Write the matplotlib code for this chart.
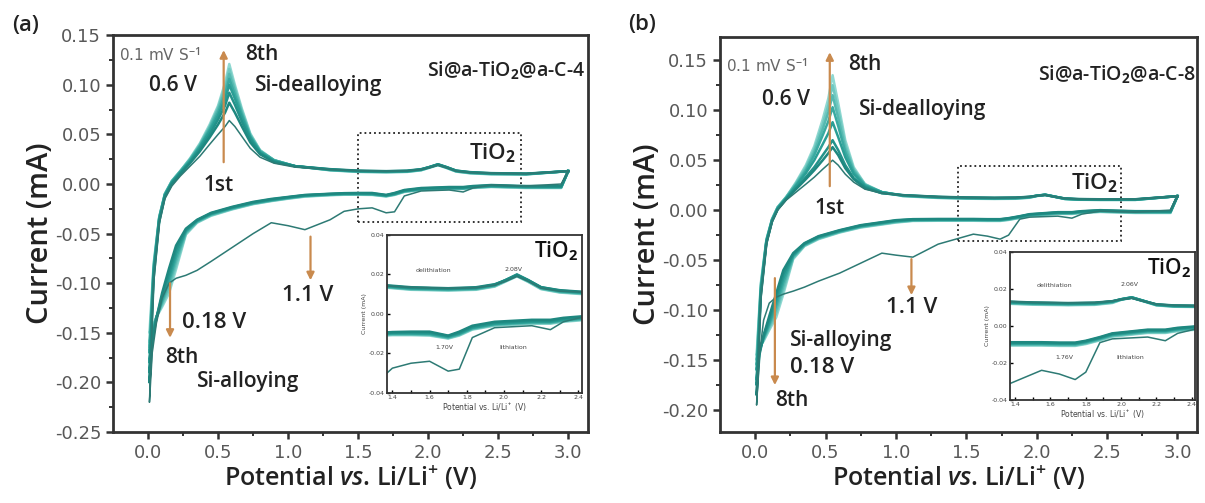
import matplotlib
matplotlib.use("Agg")
import matplotlib.pyplot as plt
from matplotlib.patches import Rectangle

plt.rcParams['axes.unicode_minus'] = False
plt.rcParams['mathtext.fontset'] = 'custom'
plt.rcParams['mathtext.rm'] = 'Open Sans:semibold'
plt.rcParams['mathtext.it'] = 'Open Sans:italic:semibold'
plt.rcParams['mathtext.bf'] = 'Open Sans:bold'

# ---------------- data: panel (a) Si@a-TiO2@a-C-4 ----------------
a_an_v = [0.01, 0.04, 0.08, 0.12, 0.17, 0.23, 0.3, 0.37, 0.44, 0.5, 0.55, 0.58, 0.62, 0.67, 0.73,
          0.8, 0.9, 1.05, 1.3, 1.5, 1.7, 1.85, 1.95, 2.01, 2.07, 2.13, 2.2, 2.3, 2.45, 2.7, 3.0]
a_an_i = [
    [-0.22, -0.1, -0.04, -0.015, -0.002, 0.008, 0.018, 0.028, 0.04, 0.05, 0.058, 0.064, 0.058, 0.048, 0.036,
     0.027, 0.021, 0.017, 0.0145, 0.0135, 0.013, 0.0133, 0.0145, 0.0165, 0.019, 0.0165, 0.013, 0.0115, 0.011, 0.0105, 0.013],
    [-0.2, -0.095, -0.038, -0.013, 0.0, 0.01, 0.021, 0.033, 0.047, 0.06, 0.072, 0.082, 0.072, 0.058, 0.042,
     0.03, 0.022, 0.018, 0.015, 0.0135, 0.013, 0.0135, 0.015, 0.017, 0.0195, 0.017, 0.0135, 0.012, 0.011, 0.0105, 0.013],
    [-0.19, -0.09, -0.036, -0.012, 0.001, 0.011, 0.022, 0.035, 0.05, 0.065, 0.079, 0.092, 0.08, 0.063, 0.045,
     0.031, 0.023, 0.018, 0.0148, 0.0132, 0.0128, 0.0132, 0.0148, 0.0172, 0.02, 0.0172, 0.0135, 0.0118, 0.0108, 0.0103, 0.013],
    [-0.18, -0.088, -0.035, -0.011, 0.002, 0.012, 0.023, 0.037, 0.053, 0.069, 0.085, 0.1, 0.086, 0.067, 0.047,
     0.032, 0.023, 0.018, 0.0145, 0.013, 0.0126, 0.013, 0.0146, 0.0172, 0.0198, 0.017, 0.0133, 0.0116, 0.0106, 0.0102, 0.013],
    [-0.17, -0.086, -0.034, -0.011, 0.002, 0.012, 0.024, 0.038, 0.055, 0.072, 0.09, 0.106, 0.09, 0.07, 0.048,
     0.033, 0.024, 0.018, 0.0143, 0.0128, 0.0124, 0.0128, 0.0144, 0.017, 0.0196, 0.0168, 0.0131, 0.0114, 0.0104, 0.01, 0.013],
    [-0.165, -0.084, -0.034, -0.01, 0.003, 0.013, 0.025, 0.039, 0.057, 0.075, 0.094, 0.111, 0.094, 0.072, 0.049,
     0.033, 0.024, 0.018, 0.0141, 0.0126, 0.0122, 0.0126, 0.0142, 0.0168, 0.0194, 0.0166, 0.0129, 0.0112, 0.0102, 0.0099, 0.013],
    [-0.16, -0.082, -0.033, -0.01, 0.003, 0.013, 0.025, 0.04, 0.058, 0.077, 0.098, 0.116, 0.097, 0.074, 0.05,
     0.034, 0.024, 0.018, 0.014, 0.0124, 0.012, 0.0124, 0.014, 0.0166, 0.0192, 0.0164, 0.0127, 0.011, 0.01, 0.0098, 0.013],
    [-0.15, -0.08, -0.033, -0.01, 0.003, 0.013, 0.026, 0.041, 0.06, 0.079, 0.102, 0.121, 0.1, 0.076, 0.051,
     0.034, 0.024, 0.018, 0.0138, 0.0122, 0.0118, 0.0122, 0.0138, 0.0164, 0.019, 0.0162, 0.0125, 0.0108, 0.0098, 0.0096, 0.013],
]
a_ca_v = [3.0, 2.95, 2.7, 2.45, 2.32, 2.25, 2.15, 1.95, 1.83, 1.76, 1.7, 1.6, 1.5, 1.4, 1.3,
          1.12, 1.0, 0.88, 0.75, 0.6, 0.45, 0.35, 0.27, 0.2, 0.15, 0.1, 0.06, 0.03, 0.01]
a_ca_i = [
    [0.013, 0.0, -0.002, -0.001, -0.004, -0.008, -0.006, -0.007, -0.012, -0.028, -0.029, -0.024, -0.025, -0.0275, -0.036,
     -0.046, -0.042, -0.039, -0.05, -0.064, -0.078, -0.087, -0.092, -0.095, -0.1, -0.115, -0.14, -0.17, -0.22],
    [0.013, -0.002, -0.002, -0.001, -0.002, -0.003, -0.003, -0.004, -0.006, -0.009, -0.011, -0.009, -0.009, -0.0092, -0.0098,
     -0.011, -0.013, -0.015, -0.018, -0.023, -0.029, -0.036, -0.045, -0.062, -0.085, -0.11, -0.135, -0.16, -0.2],
    [0.013, -0.0025, -0.0025, -0.0015, -0.0025, -0.0035, -0.0035, -0.0045, -0.0065, -0.0095, -0.0112, -0.0095, -0.0094, -0.0095, -0.01,
     -0.0113, -0.0133, -0.0155, -0.0185, -0.0235, -0.0295, -0.0365, -0.046, -0.066, -0.09, -0.113, -0.135, -0.155, -0.19],
    [0.013, -0.003, -0.003, -0.002, -0.003, -0.004, -0.004, -0.005, -0.007, -0.01, -0.0115, -0.01, -0.0098, -0.0098, -0.0103,
     -0.0116, -0.0136, -0.016, -0.019, -0.024, -0.03, -0.037, -0.047, -0.07, -0.094, -0.116, -0.135, -0.152, -0.18],
    [0.013, -0.003, -0.003, -0.0022, -0.0032, -0.0042, -0.0042, -0.0052, -0.0072, -0.0102, -0.0118, -0.0102, -0.01, -0.01, -0.0105,
     -0.0118, -0.0139, -0.0163, -0.0193, -0.0244, -0.0305, -0.0375, -0.048, -0.074, -0.098, -0.118, -0.134, -0.15, -0.17],
    [0.013, -0.0035, -0.0035, -0.0025, -0.0035, -0.0045, -0.0045, -0.0055, -0.0075, -0.0105, -0.012, -0.0105, -0.0103, -0.0103, -0.0108,
     -0.0121, -0.0142, -0.0166, -0.0196, -0.0248, -0.031, -0.038, -0.049, -0.078, -0.102, -0.12, -0.134, -0.148, -0.165],
    [0.013, -0.0035, -0.0035, -0.0027, -0.0037, -0.0047, -0.0047, -0.0057, -0.0077, -0.0107, -0.0123, -0.0107, -0.0105, -0.0105, -0.011,
     -0.0124, -0.0145, -0.0169, -0.02, -0.0252, -0.0315, -0.0385, -0.05, -0.082, -0.106, -0.122, -0.134, -0.146, -0.16],
    [0.013, -0.004, -0.004, -0.003, -0.004, -0.005, -0.005, -0.006, -0.008, -0.011, -0.0125, -0.011, -0.0108, -0.0108, -0.0113,
     -0.0127, -0.0148, -0.0172, -0.0203, -0.0256, -0.032, -0.039, -0.051, -0.086, -0.11, -0.124, -0.134, -0.144, -0.15],
]

# ---------------- data: panel (b) Si@a-TiO2@a-C-8 ----------------
b_an_v = [0.01, 0.04, 0.08, 0.12, 0.16, 0.22, 0.29, 0.36, 0.42, 0.48, 0.52, 0.55, 0.59, 0.64, 0.7,
          0.78, 0.9, 1.05, 1.3, 1.5, 1.7, 1.85, 1.95, 2.0, 2.06, 2.12, 2.2, 2.3, 2.45, 2.7, 3.0]
b_an_i = [
    [-0.195, -0.09, -0.035, -0.012, 0.0, 0.01, 0.018, 0.026, 0.033, 0.041, 0.046, 0.05, 0.045, 0.036, 0.028,
     0.021, 0.017, 0.015, 0.0135, 0.0128, 0.0125, 0.0127, 0.0135, 0.0143, 0.015, 0.0135, 0.0118, 0.0112, 0.011, 0.011, 0.014],
    [-0.185, -0.086, -0.033, -0.011, 0.001, 0.011, 0.021, 0.031, 0.04, 0.05, 0.057, 0.063, 0.055, 0.042, 0.031,
     0.022, 0.017, 0.015, 0.0134, 0.0127, 0.0124, 0.0126, 0.0134, 0.0144, 0.0152, 0.0136, 0.0117, 0.0111, 0.0109, 0.0109, 0.014],
    [-0.175, -0.083, -0.032, -0.011, 0.001, 0.011, 0.022, 0.033, 0.043, 0.055, 0.063, 0.07, 0.06, 0.045, 0.032,
     0.023, 0.017, 0.015, 0.0132, 0.0125, 0.0122, 0.0124, 0.0133, 0.0144, 0.0153, 0.0137, 0.0116, 0.011, 0.0108, 0.0108, 0.014],
    [-0.17, -0.081, -0.031, -0.01, 0.002, 0.012, 0.024, 0.037, 0.05, 0.066, 0.077, 0.088, 0.073, 0.053, 0.036,
     0.024, 0.018, 0.0148, 0.013, 0.0123, 0.012, 0.0122, 0.0132, 0.0145, 0.0155, 0.0138, 0.0115, 0.0108, 0.0106, 0.0106, 0.014],
    [-0.16, -0.079, -0.031, -0.01, 0.002, 0.012, 0.025, 0.039, 0.055, 0.075, 0.089, 0.103, 0.084, 0.058, 0.038,
     0.025, 0.018, 0.0146, 0.0128, 0.0121, 0.0118, 0.012, 0.013, 0.0144, 0.0155, 0.0138, 0.0114, 0.0107, 0.0105, 0.0105, 0.014],
    [-0.155, -0.077, -0.03, -0.009, 0.003, 0.013, 0.026, 0.041, 0.058, 0.081, 0.098, 0.115, 0.092, 0.062, 0.04,
     0.025, 0.018, 0.0144, 0.0126, 0.0119, 0.0116, 0.0118, 0.0128, 0.0143, 0.0154, 0.0137, 0.0113, 0.0106, 0.0104, 0.0104, 0.014],
    [-0.15, -0.075, -0.03, -0.009, 0.003, 0.013, 0.027, 0.043, 0.061, 0.086, 0.105, 0.125, 0.1, 0.066, 0.041,
     0.026, 0.018, 0.0142, 0.0124, 0.0117, 0.0114, 0.0116, 0.0126, 0.0142, 0.0153, 0.0136, 0.0112, 0.0105, 0.0103, 0.0103, 0.014],
    [-0.145, -0.073, -0.029, -0.009, 0.003, 0.013, 0.028, 0.045, 0.064, 0.091, 0.112, 0.135, 0.107, 0.07, 0.043,
     0.026, 0.018, 0.014, 0.0122, 0.0115, 0.0112, 0.0114, 0.0124, 0.0141, 0.0152, 0.0135, 0.0111, 0.0104, 0.0102, 0.0102, 0.014],
]
b_ca_v = [3.0, 2.95, 2.7, 2.45, 2.32, 2.25, 2.15, 1.95, 1.88, 1.8, 1.74, 1.65, 1.55, 1.45, 1.3,
          1.12, 1.0, 0.9, 0.75, 0.6, 0.45, 0.35, 0.27, 0.2, 0.15, 0.1, 0.06, 0.03, 0.01]
b_ca_i = [
    [0.014, 0.0, -0.002, -0.001, -0.004, -0.008, -0.006, -0.007, -0.009, -0.025, -0.029, -0.026, -0.024, -0.028, -0.034,
     -0.047, -0.045, -0.043, -0.053, -0.063, -0.071, -0.077, -0.081, -0.084, -0.087, -0.093, -0.11, -0.145, -0.195],
    [0.014, -0.001, -0.001, 0.0, -0.001, -0.002, -0.002, -0.004, -0.006, -0.008, -0.009, -0.009, -0.0088, -0.0088, -0.0088,
     -0.009, -0.01, -0.012, -0.015, -0.02, -0.026, -0.033, -0.043, -0.06, -0.083, -0.106, -0.125, -0.145, -0.185],
    [0.014, -0.0013, -0.0013, -0.0003, -0.0013, -0.0023, -0.0023, -0.0043, -0.0063, -0.0083, -0.0093, -0.0093, -0.0091, -0.0091, -0.0091,
     -0.0093, -0.0104, -0.0124, -0.0154, -0.0204, -0.0265, -0.0335, -0.044, -0.064, -0.087, -0.109, -0.126, -0.143, -0.175],
    [0.014, -0.0016, -0.0016, -0.0006, -0.0016, -0.0026, -0.0026, -0.0046, -0.0066, -0.0086, -0.0096, -0.0096, -0.0094, -0.0094, -0.0094,
     -0.0096, -0.0108, -0.0128, -0.0158, -0.0208, -0.027, -0.034, -0.045, -0.068, -0.091, -0.112, -0.127, -0.141, -0.17],
    [0.014, -0.0019, -0.0019, -0.0009, -0.0019, -0.0029, -0.0029, -0.0049, -0.0069, -0.0089, -0.0099, -0.0099, -0.0097, -0.0097, -0.0097,
     -0.0099, -0.0112, -0.0132, -0.0162, -0.0212, -0.0275, -0.0345, -0.046, -0.072, -0.095, -0.114, -0.128, -0.14, -0.16],
    [0.014, -0.0022, -0.0022, -0.0012, -0.0022, -0.0032, -0.0032, -0.0052, -0.0072, -0.0092, -0.0102, -0.0102, -0.01, -0.01, -0.01,
     -0.0102, -0.0116, -0.0136, -0.0166, -0.0216, -0.028, -0.035, -0.047, -0.076, -0.099, -0.116, -0.129, -0.139, -0.155],
    [0.014, -0.0025, -0.0025, -0.0015, -0.0025, -0.0035, -0.0035, -0.0055, -0.0075, -0.0095, -0.0105, -0.0105, -0.0103, -0.0103, -0.0103,
     -0.0105, -0.012, -0.014, -0.017, -0.022, -0.0285, -0.0355, -0.048, -0.08, -0.103, -0.118, -0.13, -0.138, -0.15],
    [0.014, -0.0028, -0.0028, -0.0018, -0.0028, -0.0038, -0.0038, -0.0058, -0.0078, -0.0098, -0.0108, -0.0108, -0.0106, -0.0106, -0.0106,
     -0.0108, -0.0124, -0.0144, -0.0174, -0.0224, -0.029, -0.036, -0.049, -0.084, -0.107, -0.12, -0.131, -0.137, -0.145],
]

cycle_colors = ['#2d7a74', '#1e8880', '#23928a', '#2a9e95', '#3aaaa1', '#55b9b0', '#70c8c0', '#8fd8d1']
cycle_widths = [1.1, 1.8, 1.8, 1.8, 1.8, 1.8, 1.8, 1.8]

sample_names = ['Si@a-TiO$_\\mathbf{2}$@a-C-4', 'Si@a-TiO$_\\mathbf{2}$@a-C-8']
panel_tags = ['(a)', '(b)']
inset_peaks_a = ['2.08V', '1.70V']
inset_peaks_b = ['2.06V', '1.76V']

ARROW = '#c98a4e'
TXT = '#222222'
ANN = dict(family='Open Sans', weight='semibold', color=TXT)


def draw_cycles(ax, an_v, an_i, ca_v, ca_i):
    for k in range(7, -1, -1):
        ax.plot(ca_v + an_v, ca_i[k] + an_i[k], color=cycle_colors[k],
                lw=cycle_widths[k], solid_joinstyle='round')


def style_main(ax, ylim, yticks):
    ax.set_xlim(-0.25, 3.14)
    ax.set_ylim(*ylim)
    ax.set_xticks([0.0, 0.5, 1.0, 1.5, 2.0, 2.5, 3.0])
    ax.set_xticks([0.25, 0.75, 1.25, 1.75, 2.25, 2.75], minor=True)
    ax.set_yticks(yticks)
    ax.set_yticks([t + 0.025 for t in yticks[:-1]], minor=True)
    ax.set_xticklabels(['%.1f' % t for t in ax.get_xticks()])
    ax.set_yticklabels(['%.2f' % t for t in yticks])
    for s in ax.spines.values():
        s.set_linewidth(2.0)
        s.set_color('#333333')
    ax.tick_params(which='major', direction='out', length=5, width=1.8, color='#333333',
                   labelsize=13, labelcolor='#585858')
    ax.tick_params(which='minor', direction='out', length=3, width=1.4, color='#333333')
    for lab in ax.get_xticklabels() + ax.get_yticklabels():
        lab.set_family('DejaVu Sans')
    ax.set_xlabel('Potential $\\it{vs}$. Li/Li$^{+}$ (V)', family='Open Sans', weight='semibold',
                  fontsize=18, color=TXT, labelpad=1)
    ax.set_ylabel('Current (mA)', family='Open Sans', weight='semibold', fontsize=21, color=TXT,
                  labelpad=0)


def draw_inset(ax, an_v, an_i, ca_v, ca_i, peaks):
    draw_cycles(ax, an_v, an_i, ca_v, ca_i)
    ax.set_xlim(1.37, 2.42)
    ax.set_ylim(-0.04, 0.04)
    ax.set_xticks([1.4, 1.6, 1.8, 2.0, 2.2, 2.4])
    ax.set_xticks([1.5, 1.7, 1.9, 2.1, 2.3], minor=True)
    ax.set_yticks([-0.04, -0.02, 0.0, 0.02, 0.04])
    ax.set_xticklabels(['1.4', '1.6', '1.8', '2.0', '2.2', '2.4'])
    ax.set_yticklabels(['-0.04', '-0.02', '0.00', '0.02', '0.04'])
    for s in ax.spines.values():
        s.set_linewidth(1.3)
        s.set_color('#333333')
    ax.tick_params(which='both', direction='in', length=2.5, width=1.0, labelsize=4.5,
                   labelcolor='#444444', pad=1.5)
    ax.set_xlabel('Potential vs. Li/Li$^+$ (V)', fontsize=5.5, color='#444444', labelpad=1)
    ax.set_ylabel('Current (mA)', fontsize=4.5, color='#444444', labelpad=1)
    ax.text(0.98, 0.97, 'TiO$_\\mathbf{2}$', transform=ax.transAxes, ha='right', va='top',
            fontsize=15, family='Open Sans', weight='semibold', color='#111111')
    ax.text(1.62, 0.021, 'delithiation', fontsize=4.5, color='#444444', ha='center')
    ax.text(2.05, 0.0215, peaks[0], fontsize=4.5, color='#444444', ha='center')
    ax.text(1.68, -0.018, peaks[1], fontsize=4.5, color='#444444', ha='center')
    ax.text(2.05, -0.018, 'lithiation', fontsize=4.5, color='#444444', ha='center')


def arrow(ax, x, y0, y1):
    ax.annotate('', xy=(x, y1), xytext=(x, y0),
                arrowprops=dict(arrowstyle='-|>', color=ARROW, lw=1.6, mutation_scale=11,
                                shrinkA=0, shrinkB=0))


fig = plt.figure(figsize=(12.05, 5.03), dpi=100)

# ---- panel (a)
ax1 = fig.add_axes([0.0938, 0.141, 0.394, 0.789])
draw_cycles(ax1, a_an_v, a_an_i, a_ca_v, a_ca_i)
style_main(ax1, (-0.25, 0.15), [-0.25, -0.20, -0.15, -0.10, -0.05, 0.0, 0.05, 0.10, 0.15])
ax1.add_patch(Rectangle((1.5, -0.038), 1.16, 0.089, fill=False, ls=':', lw=1.3, ec='#222222'))
ax1.text(2.63, 0.031, 'TiO$_\\mathbf{2}$', ha='right', va='center', fontsize=16, **ANN)
arrow(ax1, 0.54, 0.022, 0.135)
arrow(ax1, 1.16, -0.053, -0.097)
arrow(ax1, 0.157, -0.1, -0.155)
ax1.text(-0.21, 0.13, '0.1 mV S$^{-1}$', fontsize=11, color='#666666', va='center', family='DejaVu Sans')
ax1.text(0.69, 0.131, '8th', fontsize=15, va='center', **ANN)
ax1.text(0.18, 0.099, '0.6 V', fontsize=15, va='center', ha='center', **ANN)
ax1.text(0.76, 0.099, 'Si-dealloying', fontsize=15, va='center', **ANN)
ax1.text(0.5, -0.001, '1st', fontsize=15, va='center', ha='center', **ANN)
ax1.text(0.995, 0.91, sample_names[0], transform=ax1.transAxes, fontsize=14, ha='right', va='center', **ANN)
ax1.text(1.14, -0.112, '1.1 V', fontsize=16, va='center', ha='center', **ANN)
ax1.text(0.245, -0.14, '0.18 V', fontsize=16, va='center', **ANN)
ax1.text(0.12, -0.175, '8th', fontsize=15, va='center', **ANN)
ax1.text(0.35, -0.199, 'Si-alloying', fontsize=15, va='center', **ANN)

ins1 = fig.add_axes([0.321, 0.219, 0.162, 0.314])
draw_inset(ins1, a_an_v, a_an_i, a_ca_v, a_ca_i, inset_peaks_a)

# ---- panel (b)
ax2 = fig.add_axes([0.5975, 0.141, 0.396, 0.785])
draw_cycles(ax2, b_an_v, b_an_i, b_ca_v, b_ca_i)
style_main(ax2, (-0.222, 0.173), [-0.20, -0.15, -0.10, -0.05, 0.0, 0.05, 0.10, 0.15])
ax2.add_patch(Rectangle((1.44, -0.031), 1.16, 0.075, fill=False, ls=':', lw=1.3, ec='#222222'))
ax2.text(2.58, 0.027, 'TiO$_\\mathbf{2}$', ha='right', va='center', fontsize=16, **ANN)
arrow(ax2, 0.53, 0.024, 0.158)
arrow(ax2, 1.11, -0.049, -0.085)
arrow(ax2, 0.14, -0.068, -0.175)
ax2.text(-0.21, 0.145, '0.1 mV S$^{-1}$', fontsize=11, color='#666666', va='center', family='DejaVu Sans')
ax2.text(0.66, 0.146, '8th', fontsize=15, va='center', **ANN)
ax2.text(0.22, 0.111, '0.6 V', fontsize=15, va='center', ha='center', **ANN)
ax2.text(0.74, 0.101, 'Si-dealloying', fontsize=15, va='center', **ANN)
ax2.text(0.53, 0.002, '1st', fontsize=15, va='center', ha='center', **ANN)
ax2.text(0.997, 0.905, sample_names[1], transform=ax2.transAxes, fontsize=14, ha='right', va='center', **ANN)
ax2.text(1.11, -0.097, '1.1 V', fontsize=16, va='center', ha='center', **ANN)
ax2.text(0.25, -0.13, 'Si-alloying', fontsize=15, va='center', **ANN)
ax2.text(0.25, -0.157, '0.18 V', fontsize=16, va='center', **ANN)
ax2.text(0.14, -0.19, '8th', fontsize=15, va='center', **ANN)

ins2 = fig.add_axes([0.838, 0.205, 0.154, 0.294])
draw_inset(ins2, b_an_v, b_an_i, b_ca_v, b_ca_i, inset_peaks_b)

fig.text(0.021, 0.95, panel_tags[0], fontsize=16, family='Open Sans', weight='semibold', color=TXT, va='center', ha='center')
fig.text(0.533, 0.952, panel_tags[1], fontsize=16, family='Open Sans', weight='semibold', color=TXT, va='center', ha='center')

fig.savefig('out.png', dpi=100)
